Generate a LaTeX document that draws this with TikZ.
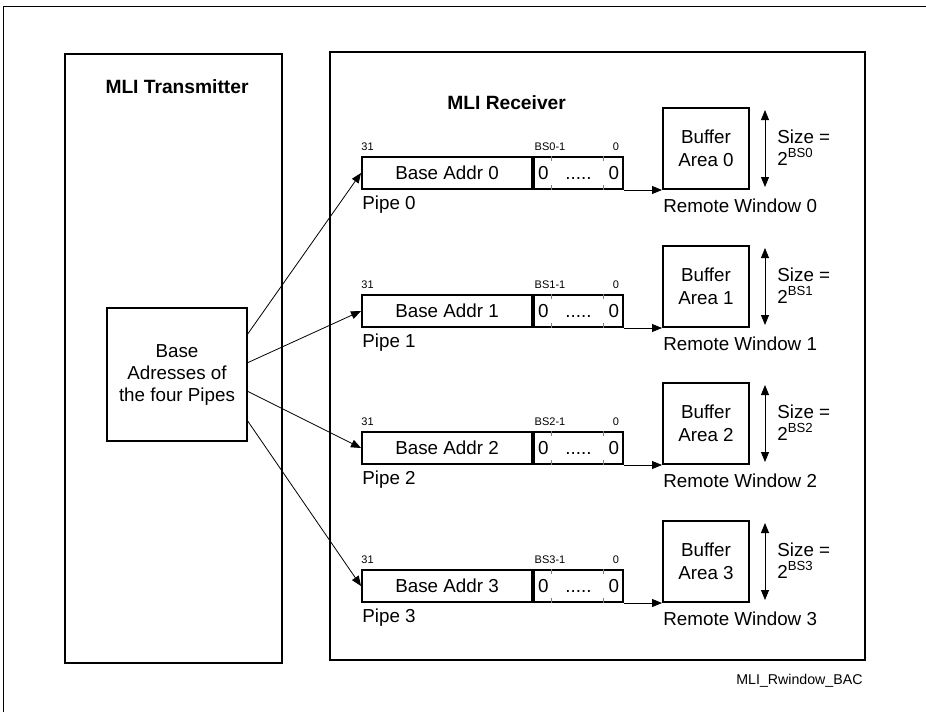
\documentclass[tikz,border=0pt]{standalone}
\usepackage{fontspec}
\setmainfont{Liberation Sans}
\usetikzlibrary{arrows.meta,calc,positioning}
\tikzset{
  frame/.style={draw, line width=1.2pt, inner sep=0pt},
  regbox/.style={draw, line width=1pt, minimum width=85pt, minimum height=16pt, inner sep=0pt, font=\fontsize{9.4}{11}\selectfont},
  zerobox/.style={draw, line width=1pt, text width=40.5pt, inner xsep=2pt, inner ysep=0pt, minimum height=16pt, font=\fontsize{9.4}{11}\selectfont},
  bufbox/.style={draw, line width=1pt, minimum width=43pt, minimum height=40.5pt, inner sep=0pt, align=center, font=\fontsize{9.4}{11.5}\selectfont},
  txt/.style={inner sep=0pt, font=\fontsize{9.4}{11}\selectfont},
  bitlbl/.style={inner sep=0pt, font=\fontsize{5.5}{6}\selectfont},
  title/.style={inner sep=0pt, font=\fontsize{9.6}{11}\selectfont\bfseries},
  arr/.style={-{Triangle[length=5pt,width=4pt]}, line width=0.4pt},
  dblarr/.style={{Triangle[length=5pt,width=4pt]}-{Triangle[length=5pt,width=4pt]}, line width=0.4pt},
  tick/.style={line width=0.4pt, gray}
}
\begin{document}
\begin{tikzpicture}[x=0.5pt, y=-0.5pt]
    \useasboundingbox (0,0) rectangle (926,712);
    \draw[line width=0.5pt] (3,712) -- (3,6) -- (926,6);

    % transmitter side
    \node[frame, minimum width=108.5pt, minimum height=304.5pt] (tx) at (173.5,358.5) {};
    \node[title] (txname) at (177,87) {MLI Transmitter};
    \node[frame, minimum width=70pt, minimum height=66.5pt, align=center, font=\fontsize{9.4}{11}\selectfont] (base) at (177,374.5) {Base\\Adresses of\\the four Pipes};

    % receiver side
    \node[frame, minimum width=267.5pt, minimum height=304pt] (rx) at (597.5,356) {};
    \node[title, anchor=west] (rxname) at (447,103) {MLI Receiver};

    % pipe 0
    \node[regbox] (reg0) at (447,173) {Base Addr 0};
    \node[zerobox, right=0pt of reg0] (zf0) {0\hfill.....\hfill0};
    \node[bitlbl] (hi0) at (367.5,147) {31};
    \node[bitlbl] (bs0) at (550,147) {BS0-1};
    \node[bitlbl] (lo0) at (616,147) {0};
    \draw[tick] ($(zf0.north west)+(18,0)$) -- +(0,5) ($(zf0.south west)+(18,0)$) -- +(0,-5)
                ($(zf0.north west)+(70,0)$) -- +(0,5) ($(zf0.south west)+(70,0)$) -- +(0,-5);
    \node[txt, anchor=west] (pipe0) at (362,205) {Pipe 0};
    \node[bufbox] (buf0) at (706,148.5) {Buffer\\Area 0};
    \coordinate (szt0) at (765,110);
    \coordinate (szb0) at (765,187);
    \draw[dblarr] (szt0) -- (szb0);
    \node[txt, anchor=west, align=left] (size0) at (777,147.5) {Size =\\2\textsuperscript{BS0}};
    \node[txt, anchor=west] (win0) at (663,206) {Remote Window 0};
    \draw[arr] (zf0.south east) -- (buf0.south west);

    % pipe 1
    \node[regbox] (reg1) at (447,311) {Base Addr 1};
    \node[zerobox, right=0pt of reg1] (zf1) {0\hfill.....\hfill0};
    \node[bitlbl] (hi1) at (367.5,285) {31};
    \node[bitlbl] (bs1) at (550,285) {BS1-1};
    \node[bitlbl] (lo1) at (616,285) {0};
    \draw[tick] ($(zf1.north west)+(18,0)$) -- +(0,5) ($(zf1.south west)+(18,0)$) -- +(0,-5)
                ($(zf1.north west)+(70,0)$) -- +(0,5) ($(zf1.south west)+(70,0)$) -- +(0,-5);
    \node[txt, anchor=west] (pipe1) at (362,343) {Pipe 1};
    \node[bufbox] (buf1) at (706,286.5) {Buffer\\Area 1};
    \coordinate (szt1) at (765,248);
    \coordinate (szb1) at (765,325);
    \draw[dblarr] (szt1) -- (szb1);
    \node[txt, anchor=west, align=left] (size1) at (777,285.5) {Size =\\2\textsuperscript{BS1}};
    \node[txt, anchor=west] (win1) at (663,344) {Remote Window 1};
    \draw[arr] (zf1.south east) -- (buf1.south west);

    % pipe 2
    \node[regbox] (reg2) at (447,448) {Base Addr 2};
    \node[zerobox, right=0pt of reg2] (zf2) {0\hfill.....\hfill0};
    \node[bitlbl] (hi2) at (367.5,422) {31};
    \node[bitlbl] (bs2) at (550,422) {BS2-1};
    \node[bitlbl] (lo2) at (616,422) {0};
    \draw[tick] ($(zf2.north west)+(18,0)$) -- +(0,5) ($(zf2.south west)+(18,0)$) -- +(0,-5)
                ($(zf2.north west)+(70,0)$) -- +(0,5) ($(zf2.south west)+(70,0)$) -- +(0,-5);
    \node[txt, anchor=west] (pipe2) at (362,480) {Pipe 2};
    \node[bufbox] (buf2) at (706,423.5) {Buffer\\Area 2};
    \coordinate (szt2) at (765,385);
    \coordinate (szb2) at (765,462);
    \draw[dblarr] (szt2) -- (szb2);
    \node[txt, anchor=west, align=left] (size2) at (777,422.5) {Size =\\2\textsuperscript{BS2}};
    \node[txt, anchor=west] (win2) at (663,481) {Remote Window 2};
    \draw[arr] (zf2.south east) -- (buf2.south west);

    % pipe 3
    \node[regbox] (reg3) at (447,586) {Base Addr 3};
    \node[zerobox, right=0pt of reg3] (zf3) {0\hfill.....\hfill0};
    \node[bitlbl] (hi3) at (367.5,560) {31};
    \node[bitlbl] (bs3) at (550,560) {BS3-1};
    \node[bitlbl] (lo3) at (616,560) {0};
    \draw[tick] ($(zf3.north west)+(18,0)$) -- +(0,5) ($(zf3.south west)+(18,0)$) -- +(0,-5)
                ($(zf3.north west)+(70,0)$) -- +(0,5) ($(zf3.south west)+(70,0)$) -- +(0,-5);
    \node[txt, anchor=west] (pipe3) at (362,618) {Pipe 3};
    \node[bufbox] (buf3) at (706,561.5) {Buffer\\Area 3};
    \coordinate (szt3) at (765,523);
    \coordinate (szb3) at (765,600);
    \draw[dblarr] (szt3) -- (szb3);
    \node[txt, anchor=west, align=left] (size3) at (777,560.5) {Size =\\2\textsuperscript{BS3}};
    \node[txt, anchor=west] (win3) at (663,619) {Remote Window 3};
    \draw[arr] (zf3.south east) -- (buf3.south west);

    % base address connectors
    \coordinate (out0) at (247,335);
    \coordinate (out1) at (247,363);
    \coordinate (out2) at (247,391);
    \coordinate (out3) at (247,420);
    \draw[arr] (out0) -- (reg0.west);
    \draw[arr] (out1) -- (reg1.west);
    \draw[arr] (out2) -- (reg2.west);
    \draw[arr] (out3) -- (reg3.west);

    \node[anchor=east, inner sep=0pt, font=\fontsize{7.1}{8}\selectfont] (figid) at (863,681) {MLI\_Rwindow\_BAC};
\end{tikzpicture}
\end{document}
